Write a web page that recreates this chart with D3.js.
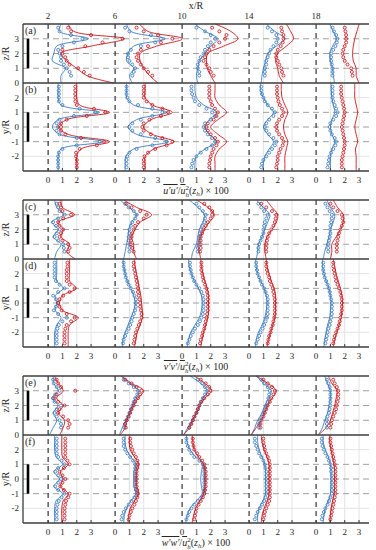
<!doctype html>
<html>
<head>
<script src="https://cdn.jsdelivr.net/npm/d3@7"></script>
<style>
  body { margin: 0; background: #fff; }
  text { font-family: "Liberation Serif", "DejaVu Serif", serif; fill: #262626; }
</style>
</head>
<body>
<svg id="fig" width="376" height="550"></svg>
<script>
// x/R stations and tick values
const columns = [2, 6, 10, 14, 18];
const qTicks = [0, 1, 2, 3];
const zTicks = [0, 1, 2, 3];
const yTicks = [-2, -1, 0, 1, 2];
const zDashed = [1, 2, 3];
const yDashed = [-1, 0, 1];
const yGrid = [-2, 2];

// heights of the measured points (markers) and of the model lines
const zMarks = [0.5, 0.75, 1, 1.25, 1.5, 1.75, 2, 2.25, 2.5, 2.75, 3, 3.25, 3.5, 3.75];
const zLine = [0, 0.5, 1, 1.5, 2, 2.5, 3, 3.5, 4];
const yMarks = [-2.75, -2.5, -2.25, -2, -1.75, -1.5, -1.25, -1, -0.75, -0.5, -0.25, 0, 0.25, 0.5, 0.75, 1, 1.25, 1.5, 1.75, 2, 2.25, 2.5, 2.75];
const yLine = [-3, -2.5, -2, -1.5, -1, -0.5, 0, 0.5, 1, 1.5, 2, 2.5, 3];

// ---- u'u' : vertical profiles (a) ----
const uuA_redPts = [
  [2.9,2.5,2.1,1.5,1.3,1.2,1.0,1.0,2.6,3.8,5.2,3.0,1.6,1.4],
  [2.6,2.3,2.0,1.8,1.6,1.5,1.6,1.8,2.3,3.2,4.0,3.0,2.0,1.5],
  [2.2,2.0,1.9,1.7,1.5,1.6,1.7,1.9,2.2,2.6,3.0,3.1,2.6,2.1],
  [2.4,2.3,2.25,2.1,2.0,1.9,1.9,2.0,2.2,2.35,2.4,2.4,2.3,2.25],
  [2.55,2.5,2.45,2.2,2.0,1.9,1.85,1.9,2.0,2.1,2.1,2.1,2.05,2.0]];
const uuA_bluePts = [
  [1.6,1.5,1.3,1.1,0.9,0.9,0.8,0.7,1.0,1.8,2.4,1.6,0.8,0.7],
  [1.2,1.3,1.4,1.2,1.0,0.9,0.9,1.1,1.8,2.8,3.2,2.5,1.0,0.7],
  [1.2,1.2,1.1,1.1,1.2,1.3,1.5,1.6,1.8,2.0,2.3,2.0,1.6,1.0],
  [1.1,1.1,1.1,1.2,1.2,1.3,1.4,1.5,1.7,1.9,2.0,1.9,1.6,1.3],
  [1.15,1.15,1.15,1.1,1.05,1.05,1.05,1.2,1.35,1.45,1.5,1.4,1.25,1.15]];
const uuA_redLine = [
  [4.6,2.7,2.0,1.3,0.9,3.0,5.3,1.8,1.4],
  [3.0,2.4,2.0,1.75,1.75,2.9,4.7,2.3,1.7],
  [2.3,2.0,1.75,1.7,1.8,2.9,3.9,3.4,2.3],
  [2.4,2.1,2.0,1.85,2.0,2.6,3.1,2.9,2.6],
  [3.0,2.8,2.8,2.6,2.55,2.6,2.7,2.85,3.0]];
const uuA_blueLine = [
  [0.9,0.9,1.2,0.3,0.4,0.6,2.8,0.8,0.9],
  [1.2,1.0,1.3,0.8,0.9,1.3,3.5,1.1,0.8],
  [1.1,1.0,1.1,1.2,1.6,2.0,2.5,1.6,0.9],
  [0.85,0.9,1.0,1.15,1.3,1.9,2.5,1.8,1.2],
  [1.3,1.2,1.15,1.0,0.95,1.15,1.4,1.2,0.95]];

// ---- u'u' : lateral profiles (b) ----
const uuB_redPts = [
  [2.0,2.0,2.0,1.95,1.95,2.2,3.4,3.9,2.3,1.2,0.9,0.9,0.9,1.3,2.7,4.0,3.2,2.0,1.9,1.9,1.9,1.9,1.9],
  [2.0,2.0,2.0,2.05,2.3,2.8,3.6,4.0,3.3,2.5,2.0,1.9,2.0,2.4,3.2,3.7,3.3,2.6,2.2,2.0,2.0,2.0,2.0],
  [1.9,1.9,1.95,2.0,2.1,2.2,2.4,2.5,2.3,2.0,1.8,1.7,1.8,2.2,2.4,2.5,2.3,2.1,2.0,1.9,1.9,1.9,1.9],
  [1.9,1.95,2.0,2.0,2.1,2.2,2.35,2.4,2.3,2.1,1.95,1.9,1.95,2.1,2.3,2.4,2.3,2.15,2.05,2.0,1.95,1.95,1.95],
  [1.8,1.8,1.8,1.85,1.9,1.95,2.0,2.0,1.95,1.9,1.85,1.8,1.85,1.9,1.95,2.0,1.95,1.9,1.85,1.8,1.75,1.75,1.75]];
const uuB_bluePts = [
  [0.7,0.7,0.7,0.7,0.75,1.0,2.0,3.6,2.0,0.8,0.6,0.7,0.6,0.8,1.8,3.3,2.2,1.0,0.75,0.75,0.75,0.75,0.75],
  [0.8,0.8,0.8,0.85,1.0,1.5,2.6,3.6,2.8,1.8,1.2,1.0,1.2,1.8,2.6,3.3,2.6,1.6,1.0,0.85,0.8,0.8,0.8],
  [0.65,0.7,0.8,1.0,1.3,1.7,2.1,2.3,2.1,1.8,1.6,1.5,1.6,2.0,2.3,2.1,1.7,1.2,0.9,0.8,0.7,0.65,0.65],
  [0.85,0.9,1.0,1.2,1.4,1.6,1.8,1.9,1.7,1.4,1.2,1.1,1.2,1.4,1.7,1.8,1.6,1.3,1.1,1.0,0.9,0.85,0.85],
  [0.8,0.85,0.9,0.95,1.05,1.2,1.35,1.4,1.3,1.1,1.0,0.95,1.0,1.2,1.4,1.5,1.4,1.3,1.2,1.15,1.15,1.15,1.15]];
const uuB_redLine = [
  [2.0,2.0,2.0,2.3,4.3,1.4,0.7,1.3,4.3,2.2,2.0,2.0,2.0],
  [2.1,2.1,2.1,2.7,4.1,2.6,2.0,2.5,4.0,2.6,2.1,2.1,2.1],
  [2.3,2.3,2.3,2.6,3.1,2.5,2.0,2.5,3.1,2.6,2.3,2.3,2.3],
  [2.5,2.5,2.5,2.6,2.7,2.5,2.4,2.5,2.7,2.5,2.3,2.25,2.25],
  [2.8,2.8,2.8,2.75,2.9,2.8,2.7,2.8,2.9,2.8,2.7,2.7,2.7]];
const uuB_blueLine = [
  [0.7,0.7,0.7,0.9,3.8,0.8,0.3,0.7,3.6,0.9,0.7,0.7,0.7],
  [0.7,0.7,0.75,1.3,3.7,1.5,0.9,1.5,3.6,1.3,0.8,0.8,0.8],
  [0.9,0.9,1.0,1.6,2.4,1.9,1.6,1.9,2.4,1.5,1.0,0.9,0.9],
  [1.0,1.0,1.1,1.4,1.7,1.3,1.0,1.3,1.7,1.3,1.0,0.8,0.8],
  [1.0,1.0,1.0,1.1,1.3,1.1,1.0,1.1,1.3,1.2,1.1,1.05,1.05]];

// ---- v'v' : vertical profiles (c) ----
const vvA_redPts = [
  [1.4,1.5,1.4,1.0,0.8,0.9,1.05,0.8,0.7,1.05,1.6,1.0,0.9,0.8],
  [1.3,1.2,1.1,1.1,1.15,1.2,1.3,1.4,1.6,2.0,2.2,1.75,1.15,0.8],
  [1.25,1.3,1.3,1.3,1.3,1.4,1.5,1.65,1.8,2.0,2.1,2.1,1.9,1.55],
  [1.2,1.2,1.2,1.25,1.3,1.4,1.55,1.7,1.8,1.85,1.9,1.6,1.2,0.85],
  [1.45,1.45,1.45,1.5,1.55,1.6,1.7,1.8,1.9,1.85,1.8,1.5,1.2,1.0]];
const vvA_bluePts = [
  [1.15,1.1,1.05,0.7,0.45,0.6,0.8,0.55,0.35,0.7,1.15,0.8,0.7,0.6],
  [1.0,1.0,1.0,0.95,0.95,1.0,1.0,1.1,1.2,1.4,1.5,1.3,0.95,0.7],
  [1.1,1.1,1.2,1.2,1.2,1.25,1.3,1.4,1.55,1.6,1.65,1.45,1.2,1.0],
  [0.65,0.65,0.7,0.8,0.9,1.0,1.0,1.05,1.1,1.2,1.3,1.05,0.85,0.65],
  [0.85,0.85,0.85,0.9,0.95,1.0,1.0,1.0,1.05,1.1,1.1,0.95,0.8,0.65]];
const vvA_redLine = [
  [1.9,1.3,1.5,0.9,1.05,0.7,1.85,1.0,0.9],
  [1.5,1.3,1.3,1.15,1.4,1.75,2.55,1.5,0.6],
  [1.3,1.2,1.1,1.3,1.55,1.9,2.25,1.8,1.0],
  [1.2,1.1,1.1,1.25,1.6,1.9,2.0,1.6,1.2],
  [1.0,1.1,1.1,1.4,1.7,1.9,1.9,1.5,1.2]];
const vvA_blueLine = [
  [0.45,0.6,0.9,0.35,0.7,0.25,1.05,0.6,0.45],
  [0.6,0.7,0.8,0.9,0.95,1.15,1.5,0.95,0.35],
  [0.65,0.75,1.0,1.1,1.2,1.45,1.55,1.1,0.5],
  [0.5,0.6,0.65,0.9,1.1,1.3,1.45,1.0,0.5],
  [0.5,0.6,0.75,0.9,1.0,1.2,1.3,1.0,0.75]];

// ---- v'v' : lateral profiles (d) ----
const vvB_redPts = [
  [1.15,1.15,1.15,1.15,1.2,1.3,1.6,1.85,1.3,0.95,0.8,0.7,0.8,1.05,1.5,1.85,1.5,1.3,1.3,1.3,1.3,1.35,1.35],
  [1.3,1.35,1.4,1.45,1.55,1.65,1.75,1.85,1.85,1.8,1.75,1.75,1.7,1.65,1.6,1.6,1.55,1.5,1.45,1.4,1.35,1.3,1.3],
  [1.25,1.3,1.4,1.45,1.55,1.6,1.65,1.7,1.75,1.8,1.8,1.8,1.8,1.8,1.75,1.7,1.6,1.5,1.45,1.4,1.35,1.35,1.35],
  [1.3,1.35,1.4,1.5,1.55,1.65,1.7,1.75,1.8,1.8,1.8,1.8,1.8,1.75,1.7,1.65,1.55,1.45,1.4,1.3,1.25,1.2,1.2],
  [1.2,1.25,1.3,1.4,1.5,1.6,1.65,1.7,1.75,1.8,1.8,1.8,1.8,1.75,1.7,1.6,1.5,1.4,1.35,1.3,1.25,1.2,1.2]];
const vvB_bluePts = [
  [0.6,0.6,0.6,0.6,0.65,0.75,1.0,1.3,0.7,0.4,0.55,0.7,0.55,0.35,0.7,1.15,0.8,0.55,0.45,0.45,0.45,0.45,0.45],
  [0.55,0.6,0.7,0.8,0.95,1.05,1.15,1.2,1.3,1.4,1.45,1.45,1.45,1.35,1.25,1.1,0.95,0.85,0.75,0.7,0.65,0.6,0.6],
  [0.4,0.5,0.6,0.75,0.9,1.1,1.25,1.35,1.45,1.5,1.5,1.5,1.5,1.45,1.35,1.2,1.0,0.85,0.75,0.65,0.6,0.55,0.55],
  [0.5,0.6,0.7,0.8,0.95,1.05,1.15,1.25,1.3,1.3,1.3,1.3,1.3,1.25,1.15,1.05,0.9,0.8,0.7,0.6,0.55,0.5,0.5],
  [0.65,0.7,0.75,0.8,0.85,0.95,1.0,1.05,1.1,1.1,1.1,1.1,1.05,1.0,0.95,0.9,0.8,0.7,0.6,0.55,0.5,0.5,0.5]];
const vvB_redLine = [
  [1.4,1.4,1.4,1.5,2.1,1.0,0.8,1.0,1.95,1.5,1.5,1.5,1.5],
  [1.35,1.45,1.55,1.75,1.9,1.9,1.85,1.8,1.7,1.6,1.5,1.4,1.35],
  [1.3,1.4,1.5,1.65,1.8,1.85,1.85,1.85,1.75,1.6,1.45,1.35,1.3],
  [1.25,1.35,1.5,1.65,1.8,1.85,1.85,1.85,1.75,1.55,1.4,1.25,1.2],
  [1.2,1.3,1.45,1.6,1.75,1.8,1.85,1.8,1.7,1.55,1.4,1.3,1.2]];
const vvB_blueLine = [
  [0.45,0.45,0.45,0.6,0.9,0.5,0.6,0.5,1.05,0.6,0.6,0.6,0.6],
  [0.5,0.55,0.7,0.9,1.1,1.3,1.4,1.3,1.1,0.85,0.7,0.6,0.55],
  [0.35,0.45,0.6,0.9,1.2,1.35,1.4,1.35,1.15,0.85,0.65,0.5,0.45],
  [0.45,0.5,0.65,0.9,1.1,1.2,1.25,1.2,1.05,0.8,0.6,0.5,0.45],
  [0.55,0.6,0.7,0.8,0.95,1.0,1.05,1.0,0.9,0.7,0.55,0.45,0.45]];

// ---- w'w' : vertical profiles (e) ----
const wwA_redPts = [
  [1.4,1.5,1.4,1.05,0.7,0.8,1.15,0.7,0.45,0.6,1.9,0.9,0.7,0.6],
  [0.75,0.7,0.8,0.95,1.05,1.15,1.3,1.4,1.6,1.75,1.85,1.5,1.15,0.7],
  [0.5,0.65,0.75,0.85,1.0,1.1,1.2,1.35,1.55,1.8,2.0,1.9,1.65,1.3],
  [0.8,0.8,0.85,1.0,1.1,1.2,1.3,1.45,1.55,1.7,1.8,1.6,1.3,1.0],
  [1.0,1.05,1.1,1.2,1.3,1.4,1.45,1.5,1.55,1.55,1.55,1.45,1.3,1.2]];
const wwA_bluePts = [
  [0.9,0.9,0.8,0.6,0.45,0.6,0.9,0.45,0.35,0.5,0.8,0.6,0.4,0.35],
  [0.65,0.7,0.8,0.9,1.0,1.1,1.2,1.3,1.4,1.55,1.6,1.3,0.95,0.6],
  [0.5,0.6,0.75,0.85,1.0,1.1,1.2,1.3,1.45,1.6,1.75,1.6,1.4,1.1],
  [0.7,0.7,0.75,0.9,1.0,1.1,1.2,1.3,1.35,1.4,1.45,1.3,1.05,0.85],
  [0.75,0.75,0.75,0.8,0.9,0.95,1.0,1.0,1.0,1.0,1.0,0.95,0.85,0.75]];
const wwA_redLine = [
  [0.8,1.05,1.15,0.7,1.05,0.6,1.05,0.7,0.45],
  [0.35,0.7,0.8,1.05,1.3,1.6,2.0,1.15,0.45],
  [0.1,0.5,0.75,1.0,1.25,1.6,2.05,1.6,0.85],
  [0.15,0.5,0.85,1.1,1.3,1.6,1.9,1.3,0.5],
  [0.15,0.7,1.0,1.15,1.3,1.4,1.45,1.1,0.85]];
const wwA_blueLine = [
  [0.1,0.35,0.6,0.35,0.7,0.25,0.7,0.4,0.35],
  [0.3,0.5,0.75,1.0,1.2,1.4,1.65,1.0,0.4],
  [0.1,0.4,0.7,1.0,1.2,1.45,1.75,1.3,0.55],
  [0.15,0.4,0.6,0.9,1.1,1.35,1.55,1.0,0.5],
  [0.15,0.45,0.6,0.8,0.9,1.0,1.0,0.8,0.6]];

// ---- w'w' : lateral profiles (f) ----
const wwB_redPts = [
  [1.15,1.15,1.15,1.15,1.2,1.25,1.4,1.5,1.1,0.85,1.0,1.2,1.0,0.8,1.1,1.5,1.35,1.2,1.2,1.2,1.2,1.2,1.2],
  [0.95,1.0,1.1,1.2,1.35,1.45,1.55,1.6,1.55,1.5,1.5,1.5,1.5,1.5,1.55,1.6,1.55,1.45,1.3,1.2,1.1,1.05,1.05],
  [0.85,0.9,0.95,1.0,1.15,1.3,1.45,1.55,1.6,1.65,1.65,1.65,1.65,1.65,1.6,1.55,1.4,1.2,1.05,0.85,0.8,0.75,0.75],
  [1.0,1.05,1.1,1.2,1.3,1.4,1.45,1.45,1.45,1.45,1.45,1.45,1.45,1.45,1.45,1.45,1.4,1.3,1.2,1.1,1.05,1.0,1.0],
  [1.0,1.05,1.1,1.15,1.2,1.25,1.3,1.35,1.35,1.35,1.35,1.35,1.35,1.35,1.35,1.3,1.25,1.2,1.15,1.1,1.05,1.0,1.0]];
const wwB_bluePts = [
  [0.6,0.6,0.6,0.6,0.65,0.75,0.95,1.15,0.7,0.5,0.7,0.9,0.7,0.5,0.7,1.15,0.95,0.7,0.6,0.6,0.6,0.6,0.6],
  [0.45,0.5,0.6,0.75,0.95,1.15,1.35,1.5,1.45,1.4,1.4,1.4,1.4,1.4,1.4,1.4,1.25,1.05,0.85,0.7,0.6,0.6,0.6],
  [0.3,0.4,0.5,0.65,0.85,1.1,1.35,1.55,1.55,1.55,1.55,1.55,1.55,1.55,1.55,1.45,1.2,0.85,0.65,0.5,0.4,0.3,0.3],
  [0.4,0.5,0.6,0.75,0.9,1.05,1.15,1.2,1.2,1.2,1.2,1.2,1.2,1.2,1.15,1.1,1.0,0.85,0.7,0.6,0.5,0.4,0.4],
  [0.4,0.45,0.55,0.65,0.8,0.9,1.0,1.1,1.1,1.1,1.1,1.1,1.1,1.05,1.05,1.0,0.9,0.8,0.65,0.55,0.45,0.4,0.4]];
const wwB_redLine = [
  [0.95,0.95,0.95,1.05,1.4,0.85,1.05,0.85,1.4,1.0,0.95,0.95,0.95],
  [0.9,0.95,1.05,1.35,1.65,1.5,1.5,1.5,1.65,1.35,1.05,1.0,1.0],
  [0.7,0.8,0.95,1.25,1.5,1.6,1.6,1.6,1.5,1.15,0.85,0.75,0.7],
  [0.85,0.9,1.05,1.25,1.4,1.4,1.4,1.4,1.4,1.25,1.05,0.9,0.85],
  [0.95,1.0,1.05,1.15,1.25,1.3,1.3,1.3,1.25,1.15,1.05,0.95,0.95]];
const wwB_blueLine = [
  [0.45,0.45,0.45,0.55,1.0,0.4,0.8,0.4,1.0,0.55,0.45,0.45,0.45],
  [0.6,0.65,0.8,1.1,1.45,1.3,1.3,1.3,1.45,1.1,0.8,0.7,0.7],
  [0.25,0.35,0.55,1.0,1.4,1.35,1.3,1.35,1.4,0.95,0.55,0.35,0.3],
  [0.6,0.6,0.7,0.95,1.15,1.15,1.15,1.15,1.1,0.9,0.7,0.6,0.6],
  [0.5,0.55,0.65,0.85,1.0,1.05,1.05,1.05,1.0,0.85,0.65,0.5,0.5]];

const RED = "#c8161d", BLUE = "#3a7bbf";
const qScale = 0.855;            // one unit of the plotted quantity in x/R units

const svg = d3.select("#fig");
const x = d3.scaleLinear().domain([0.5, 21.16]).range([23, 369]);
const px = (col, q) => x(col + q * qScale);

const groups = [
  { top: 24,  tags: ["(a)", "(b)"], sym: "u",
    A: [uuA_redPts, uuA_bluePts, uuA_redLine, uuA_blueLine],
    B: [uuB_redPts, uuB_bluePts, uuB_redLine, uuB_blueLine] },
  { top: 200, tags: ["(c)", "(d)"], sym: "v",
    A: [vvA_redPts, vvA_bluePts, vvA_redLine, vvA_blueLine],
    B: [vvB_redPts, vvB_bluePts, vvB_redLine, vvB_blueLine] },
  { top: 376, tags: ["(e)", "(f)"], sym: "w",
    A: [wwA_redPts, wwA_bluePts, wwA_redLine, wwA_blueLine],
    B: [wwB_redPts, wwB_bluePts, wwB_redLine, wwB_blueLine] }
];

// top axis
svg.append("text").attr("x", 196).attr("y", 9).attr("text-anchor", "middle")
  .attr("font-size", 10).text("x/R");
columns.forEach(c => {
  svg.append("text").attr("x", x(c)).attr("y", 19).attr("text-anchor", "middle")
    .attr("font-size", 9).text(c);
});

groups.forEach(g => {
  const zs = d3.scaleLinear().domain([0, 4]).range([g.top + 59, g.top]);
  const ys = d3.scaleLinear().domain([-3, 3]).range([g.top + 147, g.top + 59]);
  const bottom = g.top + 147;
  const gg = svg.append("g");

  // grid: light verticals at q = 1,2,3
  columns.forEach(c => {
    [1, 2, 3].forEach(q => {
      gg.append("line").attr("x1", px(c, q)).attr("x2", px(c, q))
        .attr("y1", g.top).attr("y2", bottom)
        .attr("stroke", "#e3e3e3").attr("stroke-width", 1);
    });
  });
  yGrid.forEach(v => {
    gg.append("line").attr("x1", x.range()[0]).attr("x2", x.range()[1])
      .attr("y1", ys(v)).attr("y2", ys(v)).attr("stroke", "#e3e3e3");
  });
  zDashed.forEach(v => {
    gg.append("line").attr("x1", x.range()[0]).attr("x2", x.range()[1])
      .attr("y1", zs(v)).attr("y2", zs(v)).attr("stroke", "#a0a0a0")
      .attr("stroke-dasharray", "6,4");
  });
  yDashed.forEach(v => {
    gg.append("line").attr("x1", x.range()[0]).attr("x2", x.range()[1])
      .attr("y1", ys(v)).attr("y2", ys(v)).attr("stroke", "#a0a0a0")
      .attr("stroke-dasharray", "6,4");
  });
  // black dashed zero lines
  columns.forEach(c => {
    gg.append("line").attr("x1", px(c, 0)).attr("x2", px(c, 0))
      .attr("y1", g.top).attr("y2", bottom)
      .attr("stroke", "#222").attr("stroke-width", 1.1).attr("stroke-dasharray", "5,4");
  });

  // profiles
  const drawSet = (set, hPts, hLine, hs) => {
    const [rp, bp, rl, bl] = set;
    columns.forEach((c, i) => {
      [[bl[i], BLUE], [rl[i], RED]].forEach(([vals, col]) => {
        const line = d3.line().curve(d3.curveCatmullRom)
          .x(d => px(c, d)).y((d, k) => hs(hLine[k]));
        gg.append("path").attr("d", line(vals)).attr("fill", "none")
          .attr("stroke", col).attr("stroke-width", 0.9);
      });
      [[bp[i], BLUE], [rp[i], RED]].forEach(([vals, col]) => {
        gg.selectAll(null).data(vals).join("circle")
          .attr("cx", d => px(c, d)).attr("cy", (d, k) => hs(hPts[k]))
          .attr("r", 1.5).attr("fill", "none").attr("stroke", col).attr("stroke-width", 0.85);
      });
    });
  };
  drawSet(g.A, zMarks, zLine, zs);
  drawSet(g.B, yMarks, yLine, ys);

  // frame
  [g.top, g.top + 59, bottom].forEach(yy => {
    gg.append("line").attr("x1", x.range()[0]).attr("x2", x.range()[1])
      .attr("y1", yy).attr("y2", yy).attr("stroke", "#3c3c3c").attr("stroke-width", 1.3);
  });
  gg.append("line").attr("x1", x.range()[0]).attr("x2", x.range()[0])
    .attr("y1", g.top).attr("y2", bottom).attr("stroke", "#3c3c3c").attr("stroke-width", 1.3);

  // rotor extent bars
  gg.append("line").attr("x1", 28).attr("x2", 28).attr("y1", zs(1)).attr("y2", zs(3))
    .attr("stroke", "#000").attr("stroke-width", 2.6);
  gg.append("line").attr("x1", 28).attr("x2", 28).attr("y1", ys(-1)).attr("y2", ys(1))
    .attr("stroke", "#000").attr("stroke-width", 2.6);

  // left ticks
  zTicks.forEach(v => {
    gg.append("text").attr("x", 19).attr("y", zs(v) + 3).attr("text-anchor", "end")
      .attr("font-size", 9).text(v);
  });
  yTicks.forEach(v => {
    gg.append("text").attr("x", 19).attr("y", ys(v) + 3).attr("text-anchor", "end")
      .attr("font-size", 9).text(v < 0 ? "-" + Math.abs(v) : v);
  });
  gg.append("text").attr("transform", `translate(9,${zs(2)}) rotate(-90)`)
    .attr("text-anchor", "middle").attr("font-size", 10).text("z/R");
  gg.append("text").attr("transform", `translate(9,${ys(0)}) rotate(-90)`)
    .attr("text-anchor", "middle").attr("font-size", 10).text("y/R");

  // panel tags
  gg.append("text").attr("x", 25).attr("y", g.top + 10).attr("font-size", 10).text(g.tags[0]);
  gg.append("text").attr("x", 25).attr("y", g.top + 69).attr("font-size", 10).text(g.tags[1]);

  // bottom ticks
  columns.forEach(c => {
    qTicks.forEach(q => {
      gg.append("line").attr("x1", px(c, q)).attr("x2", px(c, q))
        .attr("y1", bottom).attr("y2", bottom - 3).attr("stroke", "#3c3c3c");
      gg.append("text").attr("x", px(c, q)).attr("y", bottom + 12).attr("text-anchor", "middle")
        .attr("font-size", 9).text(q);
    });
  });

  // bottom axis label
  const t = gg.append("text").attr("x", 196).attr("y", bottom + 23)
    .attr("text-anchor", "middle").attr("font-size", 10);
  t.append("tspan").attr("font-style", "italic").style("text-decoration", "overline")
    .text(`${g.sym}′${g.sym}′`);
  t.append("tspan").text("/");
  t.append("tspan").attr("font-style", "italic").style("text-decoration", "overline").text("u");
  t.append("tspan").attr("font-size", 7).attr("dy", -4).text("2");
  t.append("tspan").attr("font-size", 7).attr("font-style", "italic").attr("dx", -3.5).attr("dy", 7).text("h");
  t.append("tspan").attr("dy", -3).text("(");
  t.append("tspan").attr("font-style", "italic").text("z");
  t.append("tspan").attr("font-size", 7).attr("font-style", "italic").attr("dy", 2).text("h");
  t.append("tspan").attr("dy", -2).text(") × 100");
});
</script>
</body>
</html>
